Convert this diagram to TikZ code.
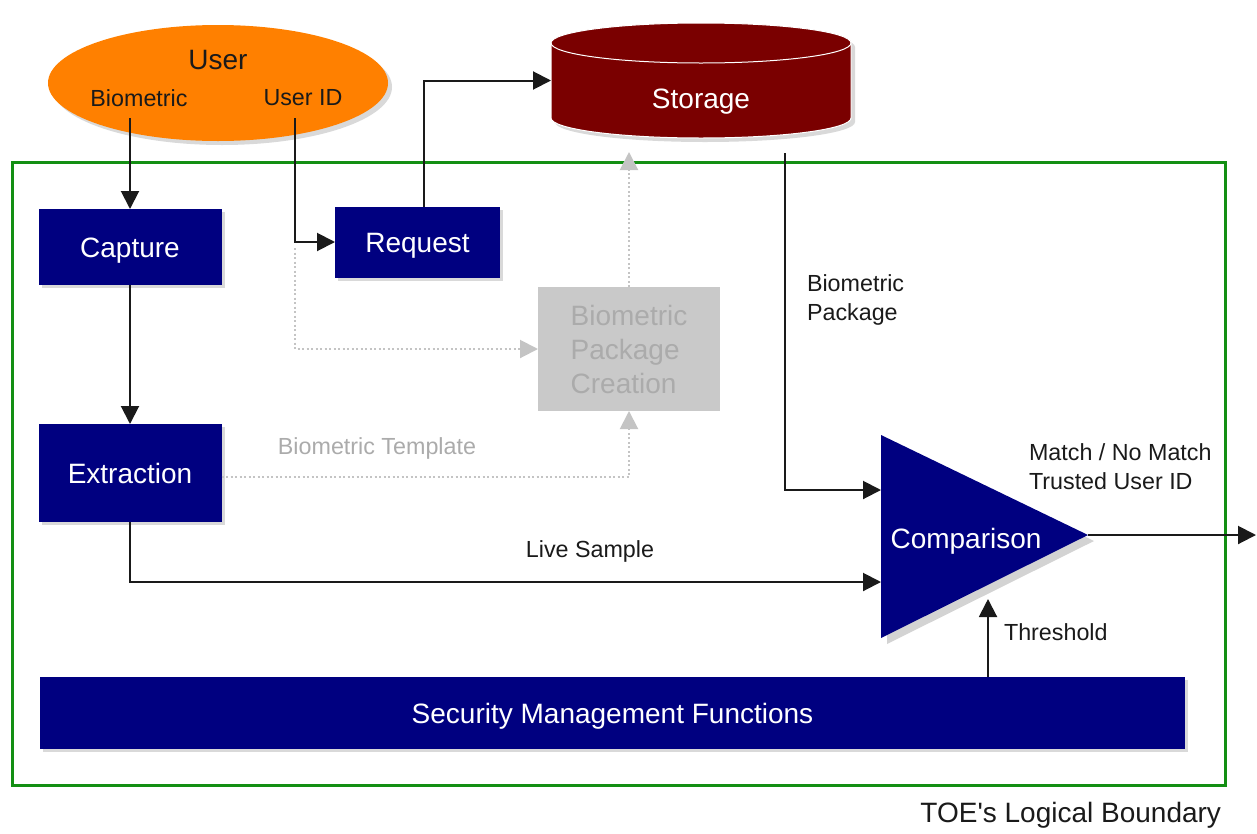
\documentclass[tikz,border=0pt]{standalone}
\usepackage{fontspec}
\setmainfont{Liberation Sans}
\usepackage{tikz}
\usetikzlibrary{arrows.meta,shapes.geometric,shadows}

\definecolor{boxblue}{HTML}{000080}
\definecolor{storered}{HTML}{7A0000}
\definecolor{userorange}{HTML}{FF8000}
\definecolor{toegreen}{HTML}{138F13}
\definecolor{boxgrey}{HTML}{C9C9C9}
\definecolor{textgrey}{HTML}{ABABAB}
\definecolor{dotgrey}{HTML}{C4C4C4}
\definecolor{inkdark}{HTML}{1A1A1A}

\newcommand{\largefont}{\fontsize{28}{34}\selectfont}
\newcommand{\smallfont}{\fontsize{23.3}{29}\selectfont}

\begin{document}
\begin{tikzpicture}
  [x=1pt,y=-1pt,
   every node/.style={inner sep=0pt,outer sep=0pt},
   captext/.style={font=\largefont,text height=20pt,text depth=0pt},
   bluebox/.style={rectangle,fill=boxblue,text=white,captext,
     drop shadow={shadow xshift=3pt,shadow yshift=-3pt,opacity=.3}},
   greybox/.style={rectangle,fill=boxgrey,text=textgrey,font=\largefont,align=left},
   txt/.style={text=inkdark,font=\smallfont},
   arr/.style={-{Triangle[length=18pt,width=18pt]},line width=2pt,draw=inkdark},
   dotarr/.style={-{Triangle[length=18pt,width=18pt]},line width=2pt,draw=dotgrey,
     dash pattern=on 2pt off 2.5pt}]

    \useasboundingbox (0,0) rectangle (1257,833);

    % TOE boundary
    \node[draw=toegreen,line width=3pt,minimum width=1213,minimum height=623] (toe) at (618.5,473.5) {};
    \node[txt,font=\largefont,anchor=east] (toelbl) at (1221,815) {TOE\textquotesingle s Logical Boundary};

    % user
    \node[ellipse,fill=userorange,minimum width=340,minimum height=116,
      drop shadow={shadow xshift=4pt,shadow yshift=-4pt,opacity=.3}] (user) at (218,83) {};
    \node[txt,font=\largefont] (userlbl) at (218,60) {User};
    \node[txt] (bio) at (139,98) {Biometric};
    \node[txt] (uid) at (303,98) {User ID};
    \coordinate (bioout) at (130,118);
    \coordinate (uidout) at (295,118);
    \coordinate (uidsplit) at (295,248);

    % storage
    \filldraw[fill=storered,draw=white,line width=1pt,
      drop shadow={shadow xshift=4pt,shadow yshift=-4pt,opacity=.3}]
      (551,43) -- (551,118) arc[start angle=180,end angle=0,x radius=150,y radius=20]
      -- (851,43) arc[start angle=0,end angle=-180,x radius=150,y radius=20] -- cycle;
    \draw[white,line width=1pt] (551,43) arc[start angle=180,end angle=0,x radius=150,y radius=20];
    \node[minimum width=300,minimum height=115] (storage) at (701,80.5) {};
    \node[text=white,captext] (storelbl) at (701,98) {Storage};
    \coordinate (storeout) at (785,153);

    % boxes
    \node[bluebox,minimum width=183,minimum height=76] (capture) at (130,247) {Capture};
    \node[bluebox,minimum width=183,minimum height=98] (extraction) at (130,473) {Extraction};
    \node[bluebox,minimum width=165,minimum height=71] (request) at (417.5,242) {Request};
    \node[greybox,minimum width=182,minimum height=124] (bpc) at (629,349) {Biometric\\Package\\Creation};
    \node[bluebox,minimum width=1145,minimum height=72] (security) at (612.5,713) {Security Management Functions};

    % comparison
    \fill[boxblue,drop shadow={shadow xshift=6pt,shadow yshift=-6pt,opacity=.35}]
      (881,435) -- (1088,535) -- (881,638) -- cycle;
    \node[text=white,captext] (comparison) at (966,538) {Comparison};
    \coordinate (cmppkg) at (881,490);
    \coordinate (cmplive) at (881,582);
    \coordinate (cmpthr) at (988,599);
    \coordinate (cmpout) at (1088,535);
    \coordinate (exit) at (1256,535);

    % connectors
    \draw[arr] (bioout) -- (capture.north);
    \draw[arr] (uidout) |- (request.west);
    \draw[arr] ([xshift=6pt]request.north) |- (storage.west);
    \draw[arr] (capture.south) -- (extraction.north);
    \draw[dotarr] (uidsplit) |- (bpc.west);
    \draw[dotarr] (bpc.north) -- ([yshift=-14pt]bpc.north |- storage.south);
    \draw[dotarr] ([yshift=-4pt]extraction.east) -| (bpc.south);
    \draw[arr] (storeout) |- (cmppkg);
    \draw[arr] (extraction.south) |- (cmplive);
    \draw[arr] (security.north -| cmpthr) -- (cmpthr);
    \draw[arr] (cmpout) -- (exit);

    % labels
    \node[txt,text=textgrey] (tmpllbl) at (377,448) {Biometric Template};
    \node[txt,anchor=west,align=left] (pkglbl) at (807,300) {Biometric\\Package};
    \node[txt] (livelbl) at (590,551) {Live Sample};
    \node[txt,anchor=west] (matchlbl) at (1029,452) {Match / No Match};
    \node[txt,anchor=west] (trustlbl) at (1029,481) {Trusted User ID};
    \node[txt,anchor=west] (thrlbl) at (1004,632) {Threshold};

\end{tikzpicture}
\end{document}
